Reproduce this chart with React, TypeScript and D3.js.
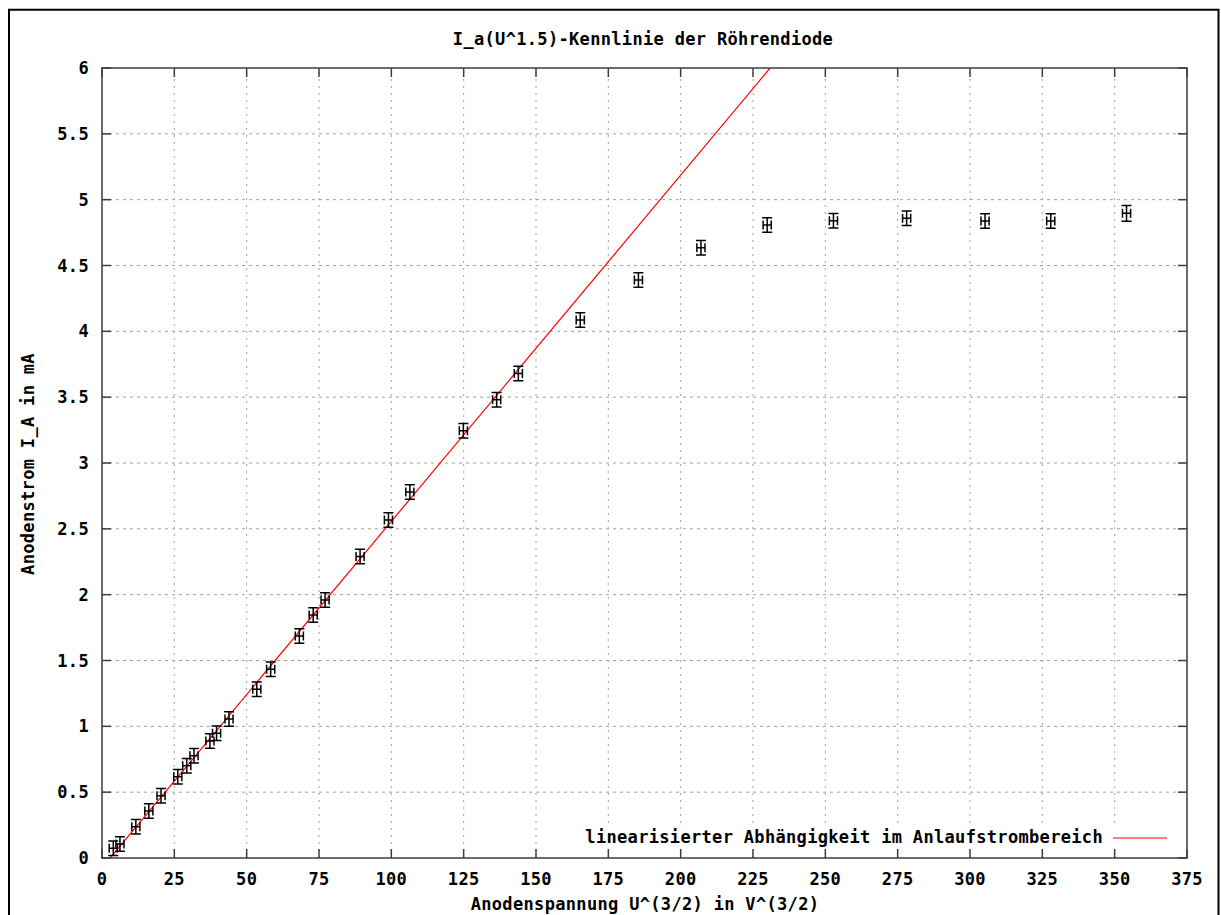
import React from "react";
import * as d3 from "d3";

// U^(3/2) in V^(3/2)
const uPow = [3.9, 6.2, 11.7, 16.2, 20.4, 26.2, 29.3, 31.8, 37.3, 39.6, 43.9, 53.5, 58.3, 68.2, 73.0, 77.1, 89.2, 99.0, 106.4, 124.9, 136.4, 143.9, 165.3, 185.4, 207.0, 229.9, 252.8, 278.1, 305.2, 327.9, 354.1];
// I_A in mA
const iA = [0.074, 0.106, 0.238, 0.357, 0.473, 0.617, 0.701, 0.777, 0.889, 0.947, 1.056, 1.281, 1.433, 1.686, 1.846, 1.96, 2.29, 2.567, 2.78, 3.245, 3.48, 3.68, 4.086, 4.39, 4.635, 4.808, 4.84, 4.858, 4.838, 4.838, 4.896];
const xErr = [1.4, 1.4, 1.4, 1.4, 1.4, 1.4, 1.4, 1.4, 1.4, 1.4, 1.4, 1.4, 1.4, 1.4, 1.4, 1.4, 1.4, 1.4, 1.4, 1.4, 1.4, 1.4, 1.4, 1.4, 1.4, 1.4, 1.4, 1.4, 1.4, 1.4, 1.4];
const yErr = [0.055, 0.055, 0.055, 0.055, 0.055, 0.055, 0.055, 0.055, 0.055, 0.055, 0.055, 0.055, 0.055, 0.055, 0.055, 0.055, 0.055, 0.055, 0.055, 0.055, 0.055, 0.055, 0.055, 0.055, 0.055, 0.055, 0.055, 0.055, 0.055, 0.055, 0.06];

// linear fit in the Anlaufstrom region: I = a*x + b
const fitSlope = 0.0263;
const fitIntercept = -0.0737;

const xTicks = [0, 25, 50, 75, 100, 125, 150, 175, 200, 225, 250, 275, 300, 325, 350, 375];
const yTicks = [0, 0.5, 1, 1.5, 2, 2.5, 3, 3.5, 4, 4.5, 5, 5.5, 6];

const title = "I_a(U^1.5)-Kennlinie der Röhrendiode";
const xLabel = "Anodenspannung U^(3/2) in V^(3/2)";
const yLabel = "Anodenstrom I_A in mA";
const legendLabel = "linearisierter Abhängigkeit im Anlaufstrombereich";

const W = 1221, H = 915;
const L = 102, R = 1187, T = 68, B = 858;
const FONT = "'DejaVu Sans Mono', 'Liberation Mono', monospace";
const fs = 17;
const ls = 0.33;
const axisColor = "#3c3c3c";

export default function App() {
  const x = d3.scaleLinear().domain([0, 375]).range([L, R]);
  const y = d3.scaleLinear().domain([0, 6]).range([B, T]);
  const line = d3.line<number>().x((d) => x(d)).y((d) => y(fitSlope * d + fitIntercept));
  const tickLen = 9;
  const txt = { fontFamily: FONT, fontSize: fs, fontWeight: 700, letterSpacing: ls, fill: "#000" } as any;
  const fitX = [x.domain()[0], x.domain()[1]];

  return (
    <svg width={W} height={H} style={{ position: "absolute", left: 0, top: 0, background: "#fff" }}>
      <defs>
        <clipPath id="plotclip">
          <rect x={L} y={T} width={R - L} height={B - T} />
        </clipPath>
      </defs>
      {/* outer frame */}
      <path d={`M9,${H + 5} L9,9.7 L1218.5,9.7 L1218.5,${H + 5}`} fill="none" stroke="#000" strokeWidth={2} />

      {/* grid */}
      {xTicks.filter((t) => t > 0 && t < 375).map((t) => (
        <line key={"gx" + t} x1={x(t)} x2={x(t)} y1={B} y2={T} stroke="#a0a0a0" strokeWidth={1} strokeDasharray="2,5" />
      ))}
      {yTicks.filter((t) => t > 0 && t < 6).map((t) => (
        <line key={"gy" + t} x1={L} x2={R} y1={y(t)} y2={y(t)} stroke="#a0a0a0" strokeWidth={1} strokeDasharray="3,4" />
      ))}

      {/* legend background */}
      <rect x={578} y={826} width={1180 - 578} height={25} fill="#fff" />

      {/* ticks */}
      {xTicks.map((t) => (
        <g key={"tx" + t}>
          <line x1={x(t)} x2={x(t)} y1={B} y2={B - tickLen} stroke={axisColor} strokeWidth={1.5} />
          <line x1={x(t)} x2={x(t)} y1={T} y2={T + tickLen} stroke={axisColor} strokeWidth={1.5} />
          <text x={x(t)} y={885} textAnchor="middle" {...txt}>{String(t)}</text>
        </g>
      ))}
      {yTicks.map((t) => (
        <g key={"ty" + t}>
          <line x1={L} x2={L + tickLen} y1={y(t)} y2={y(t)} stroke={axisColor} strokeWidth={1.5} />
          <line x1={R} x2={R - tickLen} y1={y(t)} y2={y(t)} stroke={axisColor} strokeWidth={1.5} />
          <text x={89} y={y(t) + 6} textAnchor="end" {...txt}>{String(t)}</text>
        </g>
      ))}

      {/* fit line */}
      <path d={line(fitX) || ""} fill="none" stroke="#ff0000" strokeWidth={1.2} clipPath="url(#plotclip)" />

      {/* data with xy error bars */}
      {uPow.map((u, i) => {
        const cx = x(u), cy = y(iA[i]);
        const x0 = x(u - xErr[i]), x1 = x(u + xErr[i]);
        const y0 = y(iA[i] - yErr[i]), y1 = y(iA[i] + yErr[i]);
        const cap = 5, tk = 4.5;
        const d = [
          `M${cx},${y0}L${cx},${y1}`,
          `M${cx - cap},${y0}L${cx + cap},${y0}`,
          `M${cx - cap},${y1}L${cx + cap},${y1}`,
          `M${x0},${cy}L${x1},${cy}`,
          `M${x0},${cy - tk}L${x0},${cy + tk}`,
          `M${x1},${cy - tk}L${x1},${cy + tk}`,
        ].join("");
        return <path key={"p" + i} d={d} fill="none" stroke="#000" strokeWidth={1.5} />;
      })}

      {/* plot border */}
      <rect x={L} y={T} width={R - L} height={B - T} fill="none" stroke={axisColor} strokeWidth={1.5} />

      {/* legend */}
      <text x={1103} y={843} textAnchor="end" {...txt}>{legendLabel}</text>
      <line x1={1113} x2={1167} y1={838} y2={838} stroke="#ff0000" strokeWidth={1.2} />

      {/* titles */}
      <text x={643} y={45} textAnchor="middle" {...txt}>{title}</text>
      <text x={645} y={910} textAnchor="middle" {...txt}>{xLabel}</text>
      <text transform={`translate(34,464) rotate(-90)`} textAnchor="middle" {...txt}>{yLabel}</text>
    </svg>
  );
}
